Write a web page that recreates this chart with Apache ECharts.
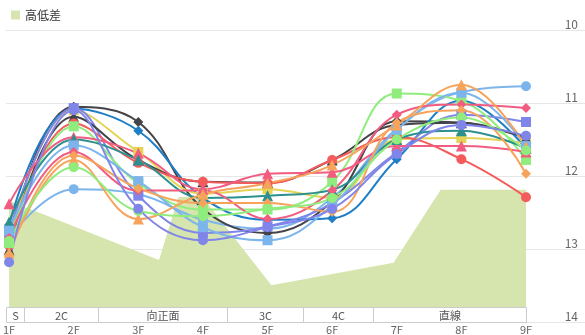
<!DOCTYPE html>
<html>
<head>
<meta charset="utf-8">
<script src="https://cdn.jsdelivr.net/npm/echarts@6/dist/echarts.min.js"></script>
<style>
  html, body { margin: 0; padding: 0; background: #fff; }
  #chart { width: 585px; height: 335px; }
</style>
</head>
<body>
<div id="chart"></div>
<script>
// Furlong categories (200 m each)
const furlongs = ['1F', '2F', '3F', '4F', '5F', '6F', '7F', '8F', '9F'];

// Lap times per furlong (seconds), one list per race
const lapLightBlueCircle = [12.85, 12.18, 12.25, 12.60, 12.72, 12.30, 11.35, 10.85, 10.77];
const lapBlackDiamond    = [12.95, 11.05, 11.26, 12.45, 12.78, 12.35, 11.25, 11.27, 11.48];
const lapBlueDiamond     = [12.67, 11.08, 11.38, 12.30, 12.60, 12.58, 11.77, 10.97, 11.62];
const lapYellowSquare    = [12.90, 11.10, 11.67, 12.24, 12.18, 12.30, 11.50, 11.48, 11.55];
const lapPurpleSquare    = [12.77, 11.07, 12.27, 12.78, 12.69, 12.37, 11.68, 11.16, 11.26];
const lapDarkTriangle    = [13.01, 11.19, 11.78, 12.08, 12.09, 11.78, 11.30, 11.27, 11.48];
const lapRedCircle       = [12.95, 11.28, 11.82, 12.08, 12.10, 11.78, 11.47, 11.77, 12.29];
const lapGreenSquare     = [12.92, 11.32, 12.10, 12.46, 12.46, 12.08, 10.87, 10.97, 11.78];
const lapPinkTriangle    = [12.38, 11.47, 11.69, 12.18, 11.97, 11.95, 11.59, 11.59, 11.67];
const lapTealTriangle    = [12.63, 11.50, 11.78, 12.30, 12.27, 12.19, 11.50, 11.38, 11.62];
const lapLightBlueSquare = [12.75, 11.58, 12.07, 12.70, 12.88, 12.40, 11.37, 10.86, 11.59];
const lapPinkDiamond     = [12.85, 11.67, 12.20, 12.20, 12.59, 12.20, 11.16, 11.02, 11.07];
const lapOrangeDiamond   = [13.08, 11.72, 12.17, 12.37, 12.37, 12.49, 11.27, 11.10, 11.97];
const lapOrangeTriangle  = [13.05, 11.78, 12.59, 12.25, 12.10, 11.85, 11.30, 10.75, 11.60];
const lapGreenCircle     = [12.89, 11.88, 12.48, 12.55, 12.45, 12.30, 11.50, 11.20, 11.65];
const lapPurpleCircle    = [13.18, 11.10, 12.45, 12.88, 12.70, 12.45, 11.70, 11.30, 11.45];

// Course elevation profile: distance (furlongs from start) and height (m)
const elevDistance = [0, 2.32, 2.62, 2.98, 4.06, 5.95, 6.68, 8.0];
const elevHeight   = [3.32, 1.70, 3.42, 3.45, 1.01, 1.62, 3.62, 3.62];

// Course sections along the bottom
const sectionNames = ['S', '2C', '向正面', '3C', '4C', '直線'];
const sectionStart = [0, 0.28, 1.42, 3.40, 4.57, 5.65];
const sectionEnd   = [0.28, 1.42, 3.40, 4.57, 5.65, 8.0];

// Line styling per race
const lapSeries = [
  { data: lapLightBlueCircle, color: '#7cb5ec', symbol: 'circle' },
  { data: lapBlackDiamond,    color: '#434348', symbol: 'diamond' },
  { data: lapBlueDiamond,     color: '#1f7ec6', symbol: 'diamond' },
  { data: lapYellowSquare,    color: '#e4d354', symbol: 'rect' },
  { data: lapPurpleSquare,    color: '#8085e9', symbol: 'rect' },
  { data: lapDarkTriangle,    color: '#434348', symbol: 'triangle' },
  { data: lapRedCircle,       color: '#f45b5b', symbol: 'circle' },
  { data: lapGreenSquare,     color: '#90ed7d', symbol: 'rect' },
  { data: lapPinkTriangle,    color: '#f15c80', symbol: 'triangle' },
  { data: lapTealTriangle,    color: '#2b908f', symbol: 'triangle' },
  { data: lapLightBlueSquare, color: '#7cb5ec', symbol: 'rect' },
  { data: lapPinkDiamond,     color: '#f15c80', symbol: 'diamond' },
  { data: lapOrangeDiamond,   color: '#f7a35c', symbol: 'diamond' },
  { data: lapOrangeTriangle,  color: '#f7a35c', symbol: 'triangle' },
  { data: lapGreenCircle,     color: '#90ed7d', symbol: 'circle' },
  { data: lapPurpleCircle,    color: '#8085e9', symbol: 'circle' }
];

const symbolSizes = { circle: 10, rect: 10, triangle: 11, diamond: 10 };
const FONT = "'Noto Sans CJK JP', 'Noto Sans', sans-serif";

const chart = echarts.init(document.getElementById('chart'), null, { renderer: 'canvas' });

const series = [];

// Elevation area
series.push({
  name: '高低差',
  type: 'line',
  xAxisIndex: 2,
  yAxisIndex: 2,
  data: elevDistance.map((d, i) => [d, elevHeight[i]]),
  symbol: 'none',
  lineStyle: { width: 0 },
  itemStyle: { color: '#d6e5ae' },
  areaStyle: { color: '#d6e5ae', opacity: 1 },
  z: 1,
  silent: true
});

// Lap time lines
lapSeries.forEach((s, i) => {
  series.push({
    name: 'lap' + i,
    type: 'line',
    xAxisIndex: 1,
    yAxisIndex: 1,
    data: s.data,
    smooth: 0.4,
    symbol: s.symbol,
    symbolSize: symbolSizes[s.symbol],
    showAllSymbol: true,
    lineStyle: { color: s.color, width: 2 },
    itemStyle: { color: s.color },
    z: 3
  });
});

// Section band
series.push({
  type: 'custom',
  xAxisIndex: 3,
  yAxisIndex: 3,
  data: sectionStart.map((st, i) => [st, sectionEnd[i]]),
  z: 5,
  silent: true,
  renderItem: function (params, api) {
    const p0 = api.coord([api.value(0), 1]);
    const p1 = api.coord([api.value(1), 0]);
    const x0 = Math.round(p0[0]) + 0.5, x1 = Math.round(p1[0]) + 0.5;
    const y0 = Math.round(p0[1]) + 0.5, y1 = Math.round(p1[1]) + 0.5;
    return {
      type: 'group',
      children: [
        {
          type: 'rect',
          shape: { x: x0, y: y0, width: x1 - x0, height: y1 - y0 },
          style: { fill: '#fff', stroke: '#cccccc', lineWidth: 1 }
        },
        {
          type: 'text',
          style: {
            text: sectionNames[params.dataIndex],
            x: (x0 + x1) / 2,
            y: (y0 + y1) / 2 + 1,
            textAlign: 'center',
            textVerticalAlign: 'middle',
            fill: '#555',
            fontSize: 11,
            fontFamily: FONT
          }
        }
      ]
    };
  }
});

chart.setOption({
  animation: false,
  textStyle: { fontFamily: FONT },
  legend: {
    data: ['高低差'],
    left: 6,
    top: 4,
    icon: 'rect',
    itemWidth: 9,
    itemHeight: 9,
    itemGap: 5,
    textStyle: { fontSize: 12, color: '#333', fontFamily: FONT }
  },
  grid: [
    { left: 6, right: 0, top: 30, height: 292 },
    { left: 6, width: 520, top: 30, height: 292 },
    { left: 6, width: 520, top: 307, height: 15 }
  ],
  xAxis: [
    { type: 'value', gridIndex: 0, min: 0, max: 1, show: false },
    {
      type: 'category', gridIndex: 1, data: furlongs, boundaryGap: false,
      axisLine: { show: false }, axisTick: { show: false },
      axisLabel: { margin: 2, color: '#666', fontSize: 11, fontFamily: FONT }
    },
    { type: 'value', gridIndex: 1, min: 0, max: 8, show: false },
    { type: 'value', gridIndex: 2, min: 0, max: 8, show: false }
  ],
  yAxis: [
    {
      type: 'value', gridIndex: 0, min: 10, max: 14, interval: 1, inverse: true,
      position: 'right',
      axisLine: { show: false }, axisTick: { show: false },
      splitLine: { show: true, lineStyle: { color: '#e6e6e6', width: 1 } },
      axisLabel: { inside: true, margin: 7, verticalAlign: 'bottom', color: '#666', fontSize: 12, fontFamily: FONT }
    },
    { type: 'value', gridIndex: 1, min: 10, max: 14, inverse: true, show: false },
    { type: 'value', gridIndex: 1, min: 0, max: 8, show: false },
    { type: 'value', gridIndex: 2, min: 0, max: 1, show: false }
  ],
  series: series
});
</script>
</body>
</html>
